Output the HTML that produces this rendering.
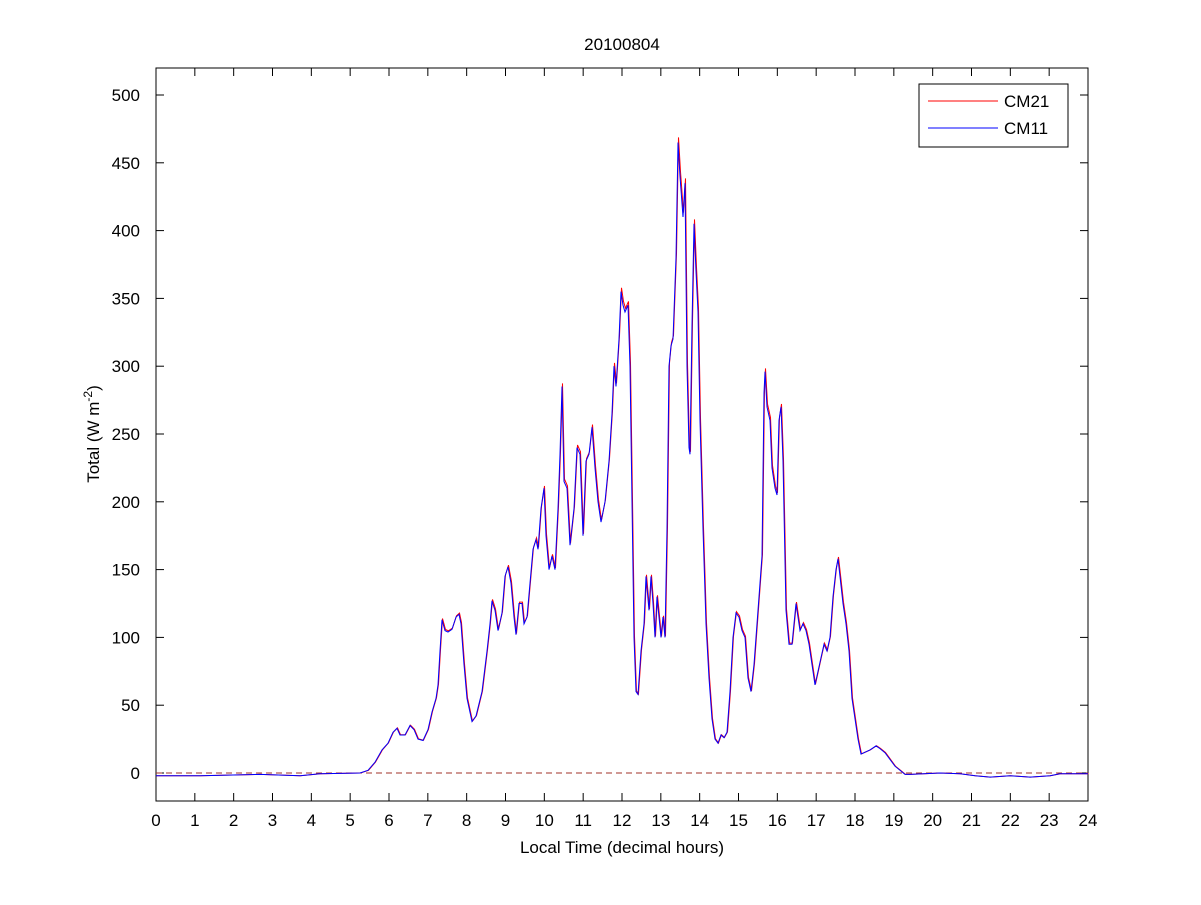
<!DOCTYPE html>
<html><head><meta charset="utf-8"><style>
html,body{margin:0;padding:0;background:#fff}
svg text{font-family:"Liberation Sans",Arial,sans-serif;fill:#000}
</style></head><body>
<svg id="s" width="1201" height="900" xmlns="http://www.w3.org/2000/svg">
<rect x="0" y="0" width="1201" height="900" fill="#fff"/>
<rect x="156" y="68" width="932" height="733" fill="#fff" stroke="#000" stroke-width="1"/>
<g id="ticks"></g>
<line x1="156" y1="773" x2="1088" y2="773" stroke="#a0302a" stroke-dasharray="6,4" stroke-width="1"/>
<path id="red" fill="none" stroke="#ff0000" stroke-width="1"/>
<path id="blue" fill="none" stroke="#0000ff" stroke-width="1"/>
<text x="622" y="50" font-size="17" text-anchor="middle">20100804</text>
<text x="622" y="853" font-size="17" text-anchor="middle">Local Time (decimal hours)</text>
<text transform="translate(99,434) rotate(-90)" font-size="17" text-anchor="middle">Total (W m<tspan font-size="12" dy="-7">-2</tspan><tspan dy="7">)</tspan></text>
<rect x="919" y="84" width="149" height="63" fill="#fff" stroke="#000"/>
<line x1="928" y1="101" x2="998" y2="101" stroke="#ff0000"/>
<text x="1004" y="107" font-size="17">CM21</text>
<line x1="928" y1="128" x2="998" y2="128" stroke="#0000ff"/>
<text x="1004" y="134" font-size="17">CM11</text>
</svg>
<script>
var g=document.getElementById('ticks'),h='';
function Y(v){return 773-v*67.8/50;}
for(var i=0;i<=24;i++){var x=156+i*932/24;
h+='<line x1="'+x+'" y1="801" x2="'+x+'" y2="793" stroke="#000"/><line x1="'+x+'" y1="68" x2="'+x+'" y2="76" stroke="#000"/>';
h+='<text x="'+x+'" y="826" font-size="17" text-anchor="middle">'+i+'</text>';}
for(var v=0;v<=500;v+=50){var y=Y(v);
h+='<line x1="156" y1="'+y+'" x2="164" y2="'+y+'" stroke="#000"/><line x1="1088" y1="'+y+'" x2="1080" y2="'+y+'" stroke="#000"/>';
h+='<text x="140" y="'+(y+6)+'" font-size="17" text-anchor="end">'+v+'</text>';}
g.innerHTML=h;
var p=[156,-2,200,-2,260,-1,300,-2,320,-0.5,360,0,368,2,375,8,382,17,388,22,393,30,397,33,400,28,405,28,410,35,414,32,418,25,423,24,428,32,432,45,436,55,438,65,440,90,442,113,445,105,448,104,452,106,456,115,459,117,461,110,464,80,467,55,472,38,476,42,482,60,487,90,490,110,492,127,495,120,498,105,502,118,505,145,508,152,511,140,514,115,516,102,519,125,522,125,524,110,527,115,530,140,533,165,536,172,538,165,541,195,544,210,546,175,549,150,552,160,555,150,558,195,560,235,562,285,564,215,567,210,570,168,574,195,577,240,580,235,583,175,586,230,589,235,592,255,595,225,598,200,601,185,605,200,609,230,612,265,614,300,616,285,619,320,621,355,623,345,625,340,628,345,630,300,632,200,634,100,636,60,638,58,641,90,644,110,646,145,649,120,651,145,653,125,655,100,657,130,659,115,661,100,663,115,665,100,667,180,669,300,671,315,673,320,676,380,678,465,680,440,683,410,685,435,687,300,689,240,690,235,692,330,694,405,696,370,698,340,700,260,703,180,706,110,709,70,712,40,715,25,718,22,721,28,724,26,727,30,730,60,733,100,736,118,739,115,742,105,745,100,748,70,751,60,754,80,757,110,760,140,762,160,764,280,765,296,767,270,770,260,772,225,775,210,777,205,779,260,781,270,783,230,786,120,789,95,792,95,794,110,796,125,798,115,800,105,803,110,806,105,809,95,812,80,815,65,818,75,821,85,824,95,827,90,830,100,833,130,836,150,838,158,840,145,843,125,846,110,849,90,852,55,855,40,858,25,861,14,864,15,870,17,876,20,880,18,885,15,890,10,895,5,900,2,905,-1,910,-1,940,0,960,-0.5,975,-2,990,-3,1010,-2,1030,-3,1050,-2,1060,-0.5,1088,-0.5];
var r='',b='';
for(var k=0;k<p.length;k+=2){var c=k?'L':'M';var v=p[k+1];
r+=c+(p[k]+0.5)+','+Y(v*1.008).toFixed(1);b+=c+p[k]+','+Y(v).toFixed(1);}
document.getElementById('red').setAttribute('d',r);
document.getElementById('blue').setAttribute('d',b);
</script>
</body></html>
